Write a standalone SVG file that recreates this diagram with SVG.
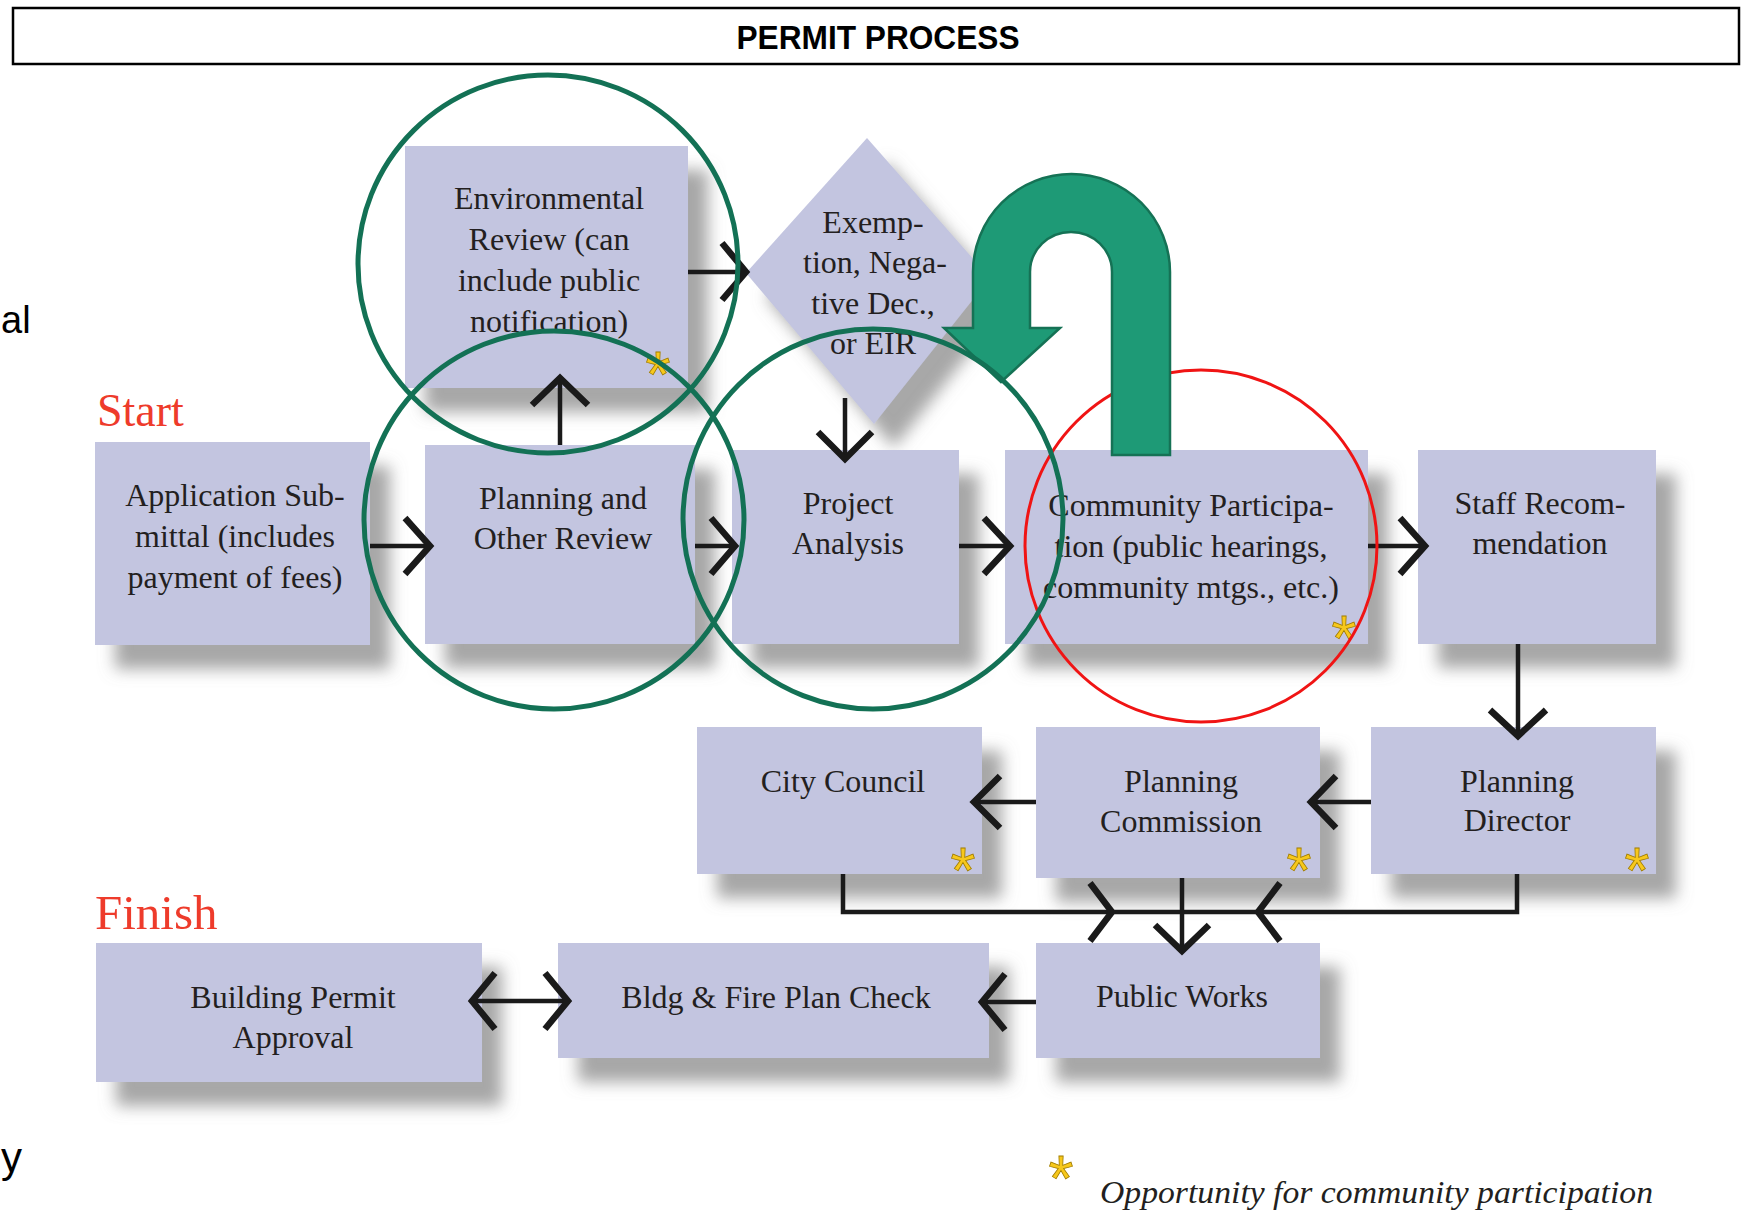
<svg xmlns="http://www.w3.org/2000/svg" width="1742" height="1213" viewBox="0 0 1742 1213">
<defs>
<filter id="sh" x="-20%" y="-20%" width="150%" height="160%">
<feGaussianBlur in="SourceAlpha" stdDeviation="8"/>
<feOffset dx="20" dy="24" result="b"/>
<feFlood flood-color="#8a8a8a" flood-opacity="0.75"/>
<feComposite in2="b" operator="in" result="s"/>
<feMerge><feMergeNode in="s"/><feMergeNode in="SourceGraphic"/></feMerge>
</filter>
<style>
.n{fill:#c3c5e0;filter:url(#sh)}
.t{font-family:"Liberation Serif","Times New Roman",serif;font-size:32px;fill:#231f20;text-anchor:middle}
.ln{fill:none;stroke:#1a1a1a;stroke-width:4.5}
.ch{fill:none;stroke:#1a1a1a;stroke-width:6.5;stroke-linejoin:miter;stroke-linecap:butt}
.ast{font-family:"Liberation Sans",Arial,sans-serif;font-size:64px;fill:#f7c81b;stroke:#a07c00;stroke-width:0.8;text-anchor:middle}
.gc{fill:none;stroke:#137155;stroke-width:5}
.lbl{font-family:"Liberation Serif","Times New Roman",serif;fill:#ee3b2b}
</style>
</defs>
<rect width="1742" height="1213" fill="#ffffff"/>

<g id="title">
<rect x="13" y="8" width="1726" height="56" fill="#ffffff" stroke="#000" stroke-width="2.5"/>
<text x="878" y="49" font-family="Liberation Sans, Arial, sans-serif" font-weight="bold" font-size="34" text-anchor="middle" textLength="283" lengthAdjust="spacingAndGlyphs" fill="#000">PERMIT PROCESS</text>
</g>

<g id="fragments">
<text x="1" y="333" font-family="Liberation Sans, Arial, sans-serif" font-size="38" fill="#000">al</text>
<text x="1" y="1172" font-family="Liberation Sans, Arial, sans-serif" font-size="42" fill="#000">y</text>
</g>

<g id="labels">
<text class="lbl" x="97" y="426" font-size="46">Start</text>
<text class="lbl" x="95" y="929" font-size="49">Finish</text>
</g>

<g id="env-review">
<rect class="n" x="405" y="146" width="283" height="242"/>
<text class="t"><tspan x="549" y="209">Environmental</tspan><tspan x="549" y="250">Review (can</tspan><tspan x="549" y="291">include public</tspan><tspan x="549" y="332">notification)</tspan></text>
<text class="ast" x="658" y="397">*</text>
</g>

<g id="decision">
<polygon class="n" points="867,138 990,278 874,424 746,273"/>
<text class="t"><tspan x="873" y="233">Exemp-</tspan><tspan x="875" y="273">tion, Nega-</tspan><tspan x="873" y="314">tive Dec.,</tspan><tspan x="873" y="354">or EIR</tspan></text>
</g>

<g id="application">
<rect class="n" x="95" y="442" width="275" height="203"/>
<text class="t"><tspan x="235" y="506">Application Sub-</tspan><tspan x="235" y="547">mittal (includes</tspan><tspan x="235" y="588">payment of fees)</tspan></text>
</g>

<g id="planning-review">
<rect class="n" x="425" y="445" width="270" height="199"/>
<text class="t"><tspan x="563" y="509">Planning and</tspan><tspan x="563" y="549">Other Review</tspan></text>
</g>

<g id="project-analysis">
<rect class="n" x="732" y="450" width="227" height="194"/>
<text class="t"><tspan x="848" y="514">Project</tspan><tspan x="848" y="554">Analysis</tspan></text>
</g>

<g id="community">
<rect class="n" x="1005" y="450" width="363" height="194"/>
<text class="t"><tspan x="1191" y="516">Community Participa-</tspan><tspan x="1191" y="557">tion (public hearings,</tspan><tspan x="1191" y="598">community mtgs., etc.)</tspan></text>
<text class="ast" x="1344" y="661">*</text>
</g>

<g id="staff">
<rect class="n" x="1418" y="450" width="238" height="194"/>
<text class="t"><tspan x="1540" y="514">Staff Recom-</tspan><tspan x="1540" y="554">mendation</tspan></text>
</g>

<g id="city-council">
<rect class="n" x="697" y="727" width="285" height="147"/>
<text class="t" x="843" y="792">City Council</text>
<text class="ast" x="963" y="893">*</text>
</g>

<g id="planning-commission">
<rect class="n" x="1036" y="727" width="284" height="151"/>
<text class="t"><tspan x="1181" y="792">Planning</tspan><tspan x="1181" y="832">Commission</tspan></text>
<text class="ast" x="1299" y="893">*</text>
</g>

<g id="planning-director">
<rect class="n" x="1371" y="727" width="285" height="147"/>
<text class="t"><tspan x="1517" y="792">Planning</tspan><tspan x="1517" y="831">Director</tspan></text>
<text class="ast" x="1637" y="893">*</text>
</g>

<g id="building-permit">
<rect class="n" x="96" y="943" width="386" height="139"/>
<text class="t"><tspan x="293" y="1008">Building Permit</tspan><tspan x="293" y="1048">Approval</tspan></text>
</g>

<g id="plan-check">
<rect class="n" x="558" y="943" width="431" height="115"/>
<text class="t" x="776" y="1008">Bldg &amp; Fire Plan Check</text>
</g>

<g id="public-works">
<rect class="n" x="1036" y="943" width="284" height="115"/>
<text class="t" x="1182" y="1007">Public Works</text>
</g>

<g id="connectors">
<path class="ln" d="M370 546 H428"/>
<polyline class="ch" points="405,518 430,546 405,574"/>
<path class="ln" d="M695 546 H733"/>
<polyline class="ch" points="711,518 735,546 711,574"/>
<path class="ln" d="M959 546 H1008"/>
<polyline class="ch" points="984,518 1010,546 984,574"/>
<path class="ln" d="M1368 546 H1423"/>
<polyline class="ch" points="1400,518 1425,546 1400,574"/>
<path class="ln" d="M560 445 V380"/>
<polyline class="ch" points="532,405 560,378 588,405"/>
<path class="ln" d="M688 272 H744"/>
<polyline class="ch" points="722,243 746,272 722,300"/>
<path class="ln" d="M845 398 V456"/>
<polyline class="ch" points="818,432 845,459 872,432"/>
<path class="ln" d="M1518 644 V733"/>
<polyline class="ch" points="1490,710 1518,736 1546,710"/>
<path class="ln" d="M1371 802 H1313"/>
<polyline class="ch" points="1336,776 1311,802 1336,828"/>
<path class="ln" d="M1036 802 H976"/>
<polyline class="ch" points="1000,776 974,802 1000,828"/>
<path class="ln" d="M843 874 V912 H1517 V874"/>
<polyline class="ch" points="1090,883 1112,912 1090,941"/>
<polyline class="ch" points="1280,883 1258,912 1280,941"/>
<path class="ln" d="M1182 878 V948"/>
<polyline class="ch" points="1155,925 1182,951 1209,925"/>
<path class="ln" d="M1036 1002 H984"/>
<polyline class="ch" points="1005,974 982,1002 1005,1030"/>
<path class="ln" d="M473 1001 H566"/>
<polyline class="ch" points="495,973 472,1001 495,1029"/>
<polyline class="ch" points="545,973 568,1001 545,1029"/>
</g>

<g id="highlight-red">
<ellipse cx="1201" cy="546" rx="176" ry="176" fill="none" stroke="#f01414" stroke-width="3"/>
</g>

<g id="u-turn-arrow">
<path d="M1112 455 L1112 272 A41 40 0 0 0 1030 272 L1030 328 L1060 328 L1001 382 L944 328 L973 328 L973 272 A98.5 98 0 0 1 1170 272 L1170 455 Z" fill="#1e9a76" stroke="#157255" stroke-width="2.5" stroke-linejoin="miter"/>
</g>

<g id="highlight-green">
<ellipse class="gc" cx="548" cy="264" rx="190" ry="189"/>
<ellipse class="gc" cx="554" cy="520" rx="190" ry="189"/>
<ellipse class="gc" cx="873" cy="519" rx="190" ry="190"/>
</g>

<g id="legend">
<text class="ast" x="1061" y="1201" font-size="54">*</text>
<text x="1100" y="1203" font-family="Liberation Serif, Times New Roman, serif" font-style="italic" font-size="32" textLength="553" lengthAdjust="spacingAndGlyphs" fill="#231f20">Opportunity for community participation</text>
</g>
</svg>
